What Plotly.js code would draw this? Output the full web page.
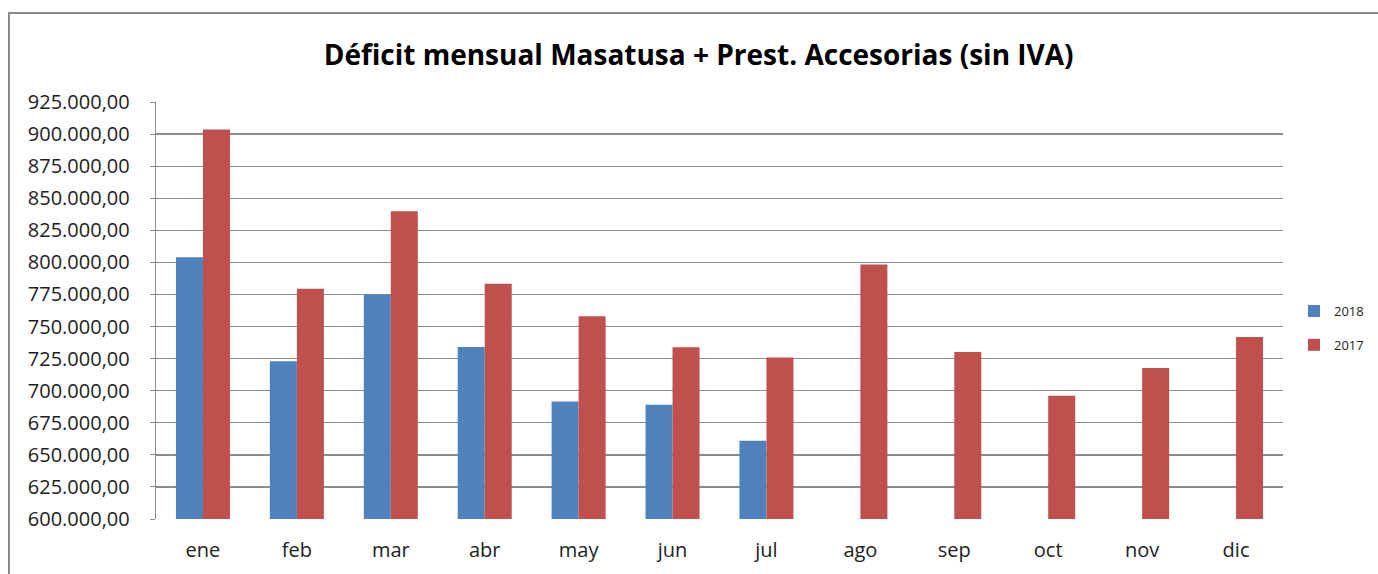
<!DOCTYPE html>
<html>
<head>
<meta charset="utf-8">
<script src="https://cdn.plot.ly/plotly-3.0.1.min.js"></script>
<style>
html, body { margin:0; padding:0; background:#fff; overflow:hidden; }
#frame { position:absolute; left:8px; top:12px; width:1400px; height:600px; border-left:2px solid #8a8a8a; border-top:2px solid #8a8a8a; }
#chart { position:absolute; left:0; top:0; width:1378px; height:574px; }
</style>
</head>
<body>
<div id="frame"></div>
<div id="chart"></div>
<script>
const months = ['ene','feb','mar','abr','may','jun','jul','ago','sep','oct','nov','dic'];
const values2018 = [804000, 723000, 775000, 734000, 691600, 689000, 661000, 0, 0, 0, 0, 0];
const values2017 = [903600, 779500, 839800, 783300, 758000, 733800, 725800, 798400, 730200, 696100, 717700, 741900];
const seriesNames = ['2018', '2017'];
const tickVals = [600000,625000,650000,675000,700000,725000,750000,775000,800000,825000,850000,875000,900000,925000];

const font = 'Open Sans, sans-serif';
const data = [
  { type:'bar', name:seriesNames[0], x:months, y:values2018, marker:{color:'#4F81BD'}, legendgroup:'a' },
  { type:'bar', name:seriesNames[1], x:months, y:values2017, marker:{color:'#C0504D'}, legendgroup:'b' }
];
const layout = {
  width:1378, height:574,
  paper_bgcolor:'rgba(0,0,0,0)', plot_bgcolor:'rgba(0,0,0,0)',
  separators:',.',
  margin:{l:156, r:95, t:102, b:55},
  barmode:'group', bargap:0.425, bargroupgap:0,
  title:{ text:'Déficit mensual Masatusa + Prest. Accesorias (sin IVA)', font:{family:font, size:28, color:'#000', weight:'bold'},
          xref:'container', yref:'container', x:0.507, xanchor:'center', y:1-55/574, yanchor:'middle' },
  xaxis:{ tickfont:{family:font, size:20, color:'#222'}, showline:false, ticks:'', fixedrange:true, ticklabelstandoff:17 },
  yaxis:{ range:[600000, 925000], tickvals:tickVals, tickformat:',.2f', tickfont:{family:font, size:20, color:'#222'},
          showgrid:true, gridcolor:'#8c8c8c', gridwidth:1.3, zeroline:false,
          showline:true, linecolor:'#8c8c8c', linewidth:1.3, ticks:'outside', ticklen:5, tickcolor:'#8c8c8c',
          ticklabelstandoff:16 },
  showlegend:true,
  legend:{ xref:'container', yref:'container', x:1294/1378, y:1-296/574, xanchor:'left', yanchor:'top',
           font:{family:font, size:13, color:'#222'}, tracegroupgap:14, itemwidth:30, bgcolor:'rgba(0,0,0,0)' }
};
Plotly.newPlot('chart', data, layout, {displayModeBar:false, staticPlot:true});
</script>
</body>
</html>
